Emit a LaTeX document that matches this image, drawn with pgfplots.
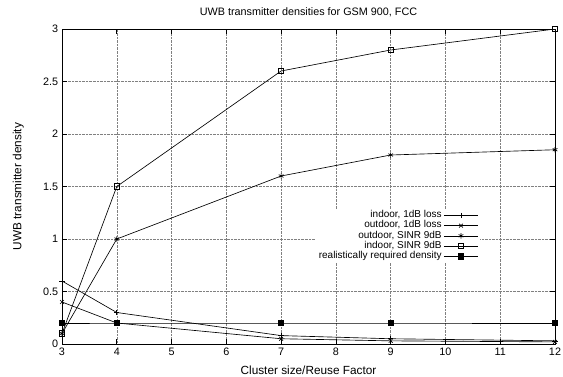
\documentclass[border=0pt]{standalone}
\usepackage{fontspec}
\setmainfont{Liberation Sans}
\usepackage{pgfplots}
\pgfplotsset{compat=1.18}
\begin{document}
\fontsize{10.8bp}{13bp}\selectfont
\begin{tikzpicture}
\begin{axis}[
  scale only axis,
  width=493bp, height=315bp,
  xmin=3, xmax=12, ymin=0, ymax=3,
  xtick={3,4,...,12},
  ytick={0,0.5,1,1.5,2,2.5,3},
  yticklabels={0,0.5,1,1.5,2,2.5,3},
  /pgf/number format/assume math mode=true,
  tick align=inside,
  major tick length=5bp,
  tick style={black, line width=0.6pt},
  grid=major,
  grid style={densely dotted, gray, line width=0.4pt},
  axis line style={line width=0.8pt},
  title={UWB transmitter densities for GSM 900, FCC},
  title style={yshift=2bp, font=\fontsize{10.8bp}{13bp}\selectfont},
  xlabel={Cluster size/Reuse Factor},
  ylabel={UWB transmitter density},
  xlabel style={yshift=-3bp, font=\fontsize{11.8bp}{14bp}\selectfont},
  ylabel style={yshift=12bp, font=\fontsize{11.8bp}{14bp}\selectfont},
  tick label style={font=\fontsize{10.8bp}{13bp}\selectfont},
  every axis plot/.append style={black, line width=0.65pt, mark size=2.7bp,
    legend image code/.code={\draw[mark repeat=2,mark phase=2] plot coordinates {(0bp,0bp) (17bp,0bp) (34bp,0bp)};}},
  legend style={draw=none, fill=white, at={(axis cs:10.64,1.03)}, anchor=east,
    inner sep=2bp, row sep=1.7bp,
    font=\fontsize{10bp}{12bp}\selectfont,
    nodes={inner xsep=2bp, inner ysep=0pt, text height=6.5bp, text depth=2bp},
    cells={anchor=east}, legend plot pos=right},
]
\addplot[mark=+] coordinates {(3,0.6) (4,0.3) (7,0.08) (9,0.05) (12,0.03)};
\addlegendentry{indoor, 1dB loss}
\addplot[mark=x] coordinates {(3,0.4) (4,0.2) (7,0.05) (9,0.03) (12,0.02)};
\addlegendentry{outdoor, 1dB loss}
\addplot[mark=asterisk] coordinates {(3,0.1) (4,1.0) (7,1.6) (9,1.8) (12,1.85)};
\addlegendentry{outdoor, SINR 9dB}
\addplot[mark=square, mark options={fill=white}] coordinates {(3,0.1) (4,1.5) (7,2.6) (9,2.8) (12,3.0)};
\addlegendentry{indoor, SINR 9dB}
\addplot[mark=square*] coordinates {(3,0.2) (4,0.2) (7,0.2) (9,0.2) (12,0.2)};
\addlegendentry{realistically required density}
\end{axis}
\pgfresetboundingbox
\path (current axis.south west) ++(-62bp,-32bp) coordinate (bbA);
\path (current axis.north east) ++(8bp,29bp) coordinate (bbB);
\path[use as bounding box] (bbA) rectangle (bbB);
\end{tikzpicture}
\end{document}
